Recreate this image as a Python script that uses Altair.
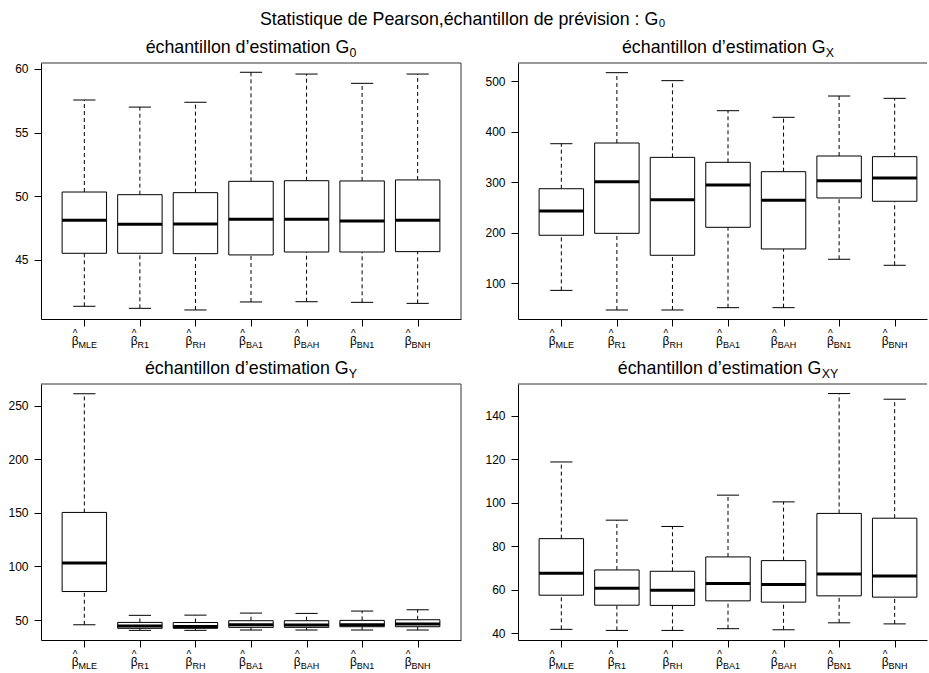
import altair as alt
import pandas as pd

FONT = "Liberation Sans, Arial, Helvetica, sans-serif"

estimators = ["MLE", "R1", "RH", "BA1", "BAH", "BN1", "BNH"]

# Five-number summaries per estimator (lower whisker, Q1, median, Q3, upper whisker)
g0_low = [41.33, 41.17, 41.04, 41.67, 41.69, 41.64, 41.56]
g0_q1 = [45.50, 45.50, 45.47, 45.37, 45.60, 45.60, 45.63]
g0_med = [48.10, 47.78, 47.80, 48.17, 48.17, 48.04, 48.10]
g0_q3 = [50.32, 50.11, 50.27, 51.16, 51.21, 51.19, 51.27]
g0_up = [57.56, 57.00, 57.38, 59.74, 59.60, 58.87, 59.60]

gx_low = [86.0, 47.2, 47.2, 51.8, 51.8, 147.5, 135.6]
gx_q1 = [195.0, 198.8, 155.4, 210.7, 167.9, 268.7, 262.2]
gx_med = [243.0, 301.0, 265.3, 294.4, 264.1, 302.9, 308.2]
gx_q3 = [287.0, 377.4, 349.0, 339.2, 320.7, 351.7, 350.4]
gx_up = [376.0, 516.5, 500.7, 441.3, 428.2, 470.3, 465.7]

gy_low = [45.6, 40.4, 40.4, 40.7, 40.7, 40.7, 40.7]
gy_q1 = [76.6, 42.3, 42.3, 43.2, 43.2, 43.8, 43.8]
gy_med = [103.2, 44.4, 44.1, 45.7, 45.4, 45.7, 46.3]
gy_q3 = [150.4, 47.8, 47.7, 49.4, 49.4, 49.7, 50.3]
gy_up = [261.1, 54.4, 54.6, 56.5, 56.2, 58.4, 59.6]

gxy_low = [41.7, 41.2, 41.2, 42.0, 41.5, 44.7, 44.2]
gxy_q1 = [57.4, 52.8, 52.7, 54.8, 54.2, 57.1, 56.5]
gxy_med = [67.5, 60.6, 59.7, 62.8, 62.3, 67.2, 66.2]
gxy_q3 = [83.4, 69.0, 68.4, 75.0, 73.3, 95.0, 92.8]
gxy_up = [118.65, 91.9, 89.0, 103.4, 100.3, 150.1, 147.5]

# Advance widths (per em) of the sans font, used to centre composite labels
ADV = {' ': .278, 'a': .556, 'c': .5, 'd': .556, 'e': .556, 'é': .556, 'h': .556,
       'i': .222, 'l': .222, 'm': .833, 'n': .556, 'o': .556, 's': .5, 't': .278,
       '’': .222, 'G': .778, 'X': .667, 'Y': .667, 'M': .833, 'L': .556, 'E': .667,
       'R': .722, 'H': .722, 'B': .667, 'A': .667, 'N': .722, '0': .556, '1': .556,
       'β': .573}


def text_w(s, size):
    return sum(ADV.get(ch, .556) for ch in s) * size


PLOT_H = 256
FULL_W = 420
X_MIN, X_SPAN = 0.22, 7.56
PPU = FULL_W / X_SPAN
TITLE_SIZE = 17.8
SUB_SIZE = 12.4
BETA_SIZE = 12
IDX_SIZE = 9
TITLE_MAIN = "échantillon d’estimation G"


def panel(low, q1, med, q3, up, ydom, yticks, sub, width, right_border):
    x_max = X_MIN + width / PPU
    beta_w = text_w("β", BETA_SIZE)
    df = pd.DataFrame({"pos": list(range(1, 8)), "est": estimators,
                       "low": low, "q1": q1, "med": med, "q3": q3, "up": up})
    tot = [beta_w + text_w(e, IDX_SIZE) for e in estimators]
    df["x_beta"] = [p + (-t / 2 + beta_w / 2) / PPU for p, t in zip(df["pos"], tot)]
    df["x_idx"] = [p + (-t / 2 + beta_w) / PPU for p, t in zip(df["pos"], tot)]

    xs = alt.Scale(domain=[X_MIN, x_max], nice=False, zero=False)
    ys = alt.Scale(domain=ydom, nice=False, zero=False)
    x_axis = alt.Axis(values=list(range(1, 8)), labels=False, tickSize=7,
                      tickColor="black", domainColor="black", grid=False)
    y_axis = alt.Axis(values=yticks, tickSize=7, labelPadding=6, labelFontSize=12,
                      labelFont=FONT, labelColor="black", tickColor="black",
                      domainColor="black", grid=False, format="d")

    base = alt.Chart(df)
    wide = base.transform_calculate(a="datum.pos - 0.4", b="datum.pos + 0.4")
    cap = base.transform_calculate(a="datum.pos - 0.2", b="datum.pos + 0.2")

    whisk_lo = base.mark_rule(color="black", strokeWidth=1, strokeDash=[4, 3]).encode(
        x=alt.X("pos:Q", scale=xs, axis=x_axis, title=None),
        y=alt.Y("low:Q", scale=ys, axis=y_axis, title=None), y2="q1:Q")
    whisk_hi = base.mark_rule(color="black", strokeWidth=1, strokeDash=[4, 3]).encode(
        x="pos:Q", y="q3:Q", y2="up:Q")
    cap_lo = cap.mark_rule(color="black", strokeWidth=1).encode(
        x="a:Q", x2="b:Q", y="low:Q")
    cap_hi = cap.mark_rule(color="black", strokeWidth=1).encode(
        x="a:Q", x2="b:Q", y="up:Q")
    box = wide.mark_rect(fill="white", stroke="black", strokeWidth=1).encode(
        x="a:Q", x2="b:Q", y="q1:Q", y2="q3:Q")
    median = wide.mark_rule(color="black", strokeWidth=3).encode(
        x="a:Q", x2="b:Q", y="med:Q")

    # tick labels: a hat over beta, with the estimator name as a subscript
    hat = base.mark_text(text="^", font=FONT, fontSize=10, align="center",
                         baseline="alphabetic", color="black").encode(
        x="x_beta:Q", y=alt.value(PLOT_H + 17.5))
    beta = base.mark_text(text="β", font=FONT, fontSize=BETA_SIZE, align="center",
                          baseline="alphabetic", color="black").encode(
        x="x_beta:Q", y=alt.value(PLOT_H + 26))
    idx = base.mark_text(font=FONT, fontSize=IDX_SIZE, align="left",
                         baseline="alphabetic", color="black").encode(
        x="x_idx:Q", y=alt.value(PLOT_H + 29), text="est:N")

    # panel heading with its subscript, centred over the panel
    main_w = text_w(TITLE_MAIN, TITLE_SIZE)
    sub_w = text_w(sub, SUB_SIZE)
    x0 = FULL_W / 2 - (main_w + sub_w) / 2
    head_df = pd.DataFrame({"t": [TITLE_MAIN], "s": [sub]})
    head = alt.Chart(head_df).mark_text(font=FONT, fontSize=TITLE_SIZE, align="left",
                                        baseline="alphabetic", color="black").encode(
        x=alt.value(x0), y=alt.value(-10), text="t:N")
    head_sub = alt.Chart(head_df).mark_text(font=FONT, fontSize=SUB_SIZE, align="left",
                                            baseline="alphabetic", color="black").encode(
        x=alt.value(x0 + main_w), y=alt.value(-6.5), text="s:N")

    top_line = alt.Chart(head_df).mark_rule(color="#333", strokeWidth=1).encode(
        x=alt.value(0), x2=alt.value(width), y=alt.value(0))
    layers = [whisk_lo, whisk_hi, cap_lo, cap_hi, box, median, hat, beta, idx,
              head, head_sub, top_line]
    if right_border:
        layers.append(alt.Chart(head_df).mark_rule(color="#333", strokeWidth=1).encode(
            x=alt.value(width), y=alt.value(0), y2=alt.value(PLOT_H)))
    return alt.layer(*layers).properties(width=width, height=PLOT_H)


tl = panel(g0_low, g0_q1, g0_med, g0_q3, g0_up, [40.33, 60.47],
           [45, 50, 55, 60], "0", 420, True)
tr = panel(gx_low, gx_q1, gx_med, gx_q3, gx_up, [29.4, 535.6],
           [100, 200, 300, 400, 500], "X", 409, False)
bl = panel(gy_low, gy_q1, gy_med, gy_q3, gy_up, [31.4, 270.2],
           [50, 100, 150, 200, 250], "Y", 420, True)
br = panel(gxy_low, gxy_q1, gxy_med, gxy_q3, gxy_up, [36.8, 154.5],
           [40, 60, 80, 100, 120, 140], "XY", 409, False)

chart = alt.concat(
    tl, tr, bl, br, columns=2, spacing={"row": 65, "column": 57}, bounds="flush"
).properties(
    title=alt.TitleParams(text="Statistique de Pearson,échantillon de prévision : G₀",
                          font=FONT, fontSize=TITLE_SIZE, fontWeight="normal",
                          color="black", anchor="middle", offset=10, dx=-5),
    padding={"left": 7, "top": 11, "right": 0, "bottom": 0},
    background="white",
).configure_view(stroke=None)

chart.save("out.html", embed_options={"renderer": "svg", "actions": False})
